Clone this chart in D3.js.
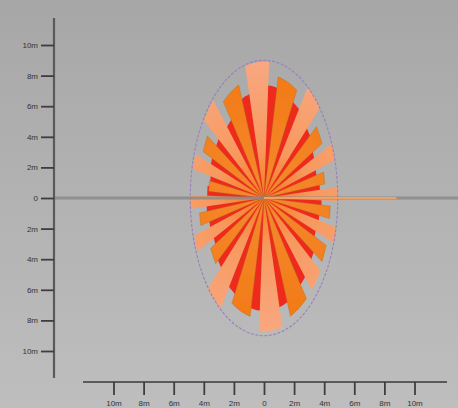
<!DOCTYPE html>
<html><head><meta charset="utf-8">
<script src="https://cdn.jsdelivr.net/npm/d3@7"></script>
<style>html,body{margin:0;padding:0;overflow:hidden;background:#b0b0b0}</style>
</head><body>
<svg id="chart" width="458" height="408"></svg>
<script>
// ---- data ----
const yTickValues = [10, 8, 6, 4, 2, 0, -2, -4, -6, -8, -10];
const yTickLabels = ["10m", "8m", "6m", "4m", "2m", "0", "2m", "4m", "6m", "8m", "10m"];
const xTickValues = [-10, -8, -6, -4, -2, 0, 2, 4, 6, 8, 10];
const xTickLabels = ["10m", "8m", "6m", "4m", "2m", "0", "2m", "4m", "6m", "8m", "10m"];
// outer boundary ellipse (metres)
const boundaryRx = 4.9;
const boundaryRy = 9.0;
// spokes: direction (deg, clockwise from up), length (fraction of boundary), kind
const spokeDirections = [357, 12, 27, 42, 57, 72, 87, 102, 117, 132, 147, 162, 177, 192, 207, 222, 237, 252, 267, 282, 297, 312, 327, 342];
const spokeValues =     [0.99, 0.90, 1.0, 0.88, 1.0, 0.83, 1.0, 0.90, 1.0, 0.91, 0.93, 0.93, 0.97, 0.88, 1.0, 0.81, 0.98, 0.88, 1.0, 0.75, 0.98, 0.89, 0.99, 0.89];
const spokeKinds =      ["S","O","S","O","S","O","S","O","S","O","S","O","S","O","S","O","S","O","S","O","S","O","S","O"];
// red background sectors
const redDirections = [4.5, 19.5, 34.5, 49.5, 64.5, 79.5, 94.5, 109.5, 124.5, 139.5, 154.5, 169.5, 184.5, 199.5, 214.5, 229.5, 244.5, 259.5, 274.5, 289.5, 304.5, 319.5, 334.5, 349.5];
const redValues =     [0.82, 0.80, 0.77, 0.74, 0.73, 0.76, 0.78, 0.76, 0.74, 0.78, 0.80, 0.82, 0.82, 0.80, 0.77, 0.74, 0.76, 0.78, 0.77, 0.74, 0.76, 0.75, 0.72, 0.78];
const trailLength = 8.8; // orange line along the x axis (m)

// ---- layout ----
const svg = d3.select("#chart");
const W = 458, H = 408;
const x = d3.scaleLinear().domain([-10, 10]).range([113.5, 414.5]);
const y = d3.scaleLinear().domain([-10, 10]).range([351, 45]);

const defs = svg.append("defs");
const bg = defs.append("linearGradient").attr("id", "bg").attr("x1", 0).attr("y1", 0).attr("x2", 0).attr("y2", 1);
bg.append("stop").attr("offset", "0%").attr("stop-color", "#a7a7a7");
bg.append("stop").attr("offset", "100%").attr("stop-color", "#bebebe");
const sg = defs.append("radialGradient").attr("id", "salmon").attr("gradientUnits", "userSpaceOnUse")
  .attr("cx", x(0)).attr("cy", y(0)).attr("r", 140);
sg.append("stop").attr("offset", "0%").attr("stop-color", "#f47a1a");
sg.append("stop").attr("offset", "35%").attr("stop-color", "#f7995e");
sg.append("stop").attr("offset", "100%").attr("stop-color", "#f9a882");
const og = defs.append("radialGradient").attr("id", "orange").attr("gradientUnits", "userSpaceOnUse")
  .attr("cx", x(0)).attr("cy", y(0)).attr("r", 140);
og.append("stop").attr("offset", "0%").attr("stop-color", "#f58a30");
og.append("stop").attr("offset", "100%").attr("stop-color", "#f27812");
const blur = defs.append("filter").attr("id", "soft");
blur.append("feGaussianBlur").attr("stdDeviation", 0.6);

svg.append("rect").attr("width", W).attr("height", H).attr("fill", "url(#bg)");

const rad = d => d * Math.PI / 180;
function boundaryR(a) {
  const s = Math.sin(a), c = Math.cos(a);
  return 1 / Math.sqrt((s / boundaryRx) ** 2 + (c / boundaryRy) ** 2);
}
function sector(dir, half, frac) {
  const pts = [[x(0), y(0)]];
  const n = 16;
  for (let i = 0; i <= n; i++) {
    const a = rad(dir - half + (2 * half) * i / n);
    const r = frac * boundaryR(a);
    pts.push([x(r * Math.sin(a)), y(r * Math.cos(a))]);
  }
  return "M" + pts.map(p => p[0].toFixed(2) + "," + p[1].toFixed(2)).join("L") + "Z";
}

const plot = svg.append("g").attr("filter", "url(#soft)");
// red sectors
plot.selectAll("path.red").data(redDirections.map((d, i) => ({dir: d, v: redValues[i]})))
  .join("path").attr("class", "red")
  .attr("d", d => sector(d.dir, 7.6, d.v))
  .attr("fill", "#ee2b1e");
// spokes
plot.selectAll("path.spoke").data(spokeDirections.map((d, i) => ({dir: d, v: spokeValues[i], k: spokeKinds[i]})))
  .join("path").attr("class", "spoke")
  .attr("d", d => sector(d.dir, 5.2, d.v))
  .attr("fill", d => d.k === "S" ? "url(#salmon)" : "url(#orange)")
  .attr("stroke", d => d.k === "S" ? "none" : "#a8661c")
  .attr("stroke-opacity", 0.5)
  .attr("stroke-width", 0.7);

// dashed boundary ellipse
svg.append("ellipse")
  .attr("cx", x(0)).attr("cy", y(0))
  .attr("rx", x(boundaryRx) - x(0)).attr("ry", y(0) - y(boundaryRy))
  .attr("fill", "none").attr("stroke", "#9a7fb8").attr("stroke-width", 1.1)
  .attr("stroke-dasharray", "3,1.5");

// zero line + orange trail
svg.append("line").attr("x1", 54).attr("x2", W).attr("y1", y(0)).attr("y2", y(0))
  .attr("stroke", "#8a8a8a").attr("stroke-width", 3).attr("stroke-opacity", 0.85);
svg.append("line").attr("x1", x(0)).attr("x2", x(trailLength)).attr("y1", y(0)).attr("y2", y(0))
  .attr("stroke", "#f0a060").attr("stroke-width", 2);

// left axis
const axisColor = "#3e3e3e";
svg.append("line").attr("x1", 54).attr("x2", 54).attr("y1", 18).attr("y2", 378)
  .attr("stroke", "#5a5a5a").attr("stroke-width", 2.2);
const yAxis = d3.axisLeft(y).tickValues(yTickValues).tickSize(13).tickPadding(3)
  .tickFormat((d, i) => yTickLabels[i]);
const gy = svg.append("g").attr("transform", "translate(54,0)").call(yAxis);
gy.select(".domain").remove();
gy.selectAll(".tick line").attr("stroke", axisColor).attr("stroke-width", 1.8);
gy.selectAll(".tick text").attr("fill", "#333").style("font-family", "Liberation Sans, Arial, sans-serif").style("font-size", "8px");

// bottom axis
svg.append("line").attr("x1", 83).attr("x2", 447).attr("y1", 382).attr("y2", 382)
  .attr("stroke", "#5a5a5a").attr("stroke-width", 2);
const xAxis = d3.axisBottom(x).tickValues(xTickValues).tickSize(13).tickPadding(5)
  .tickFormat((d, i) => xTickLabels[i]);
const gx = svg.append("g").attr("transform", "translate(0,382)").call(xAxis);
gx.select(".domain").remove();
gx.selectAll(".tick line").attr("stroke", axisColor).attr("stroke-width", 1.8);
gx.selectAll(".tick text").attr("fill", "#333").style("font-family", "Liberation Sans, Arial, sans-serif").style("font-size", "8px");
</script>
</body></html>
